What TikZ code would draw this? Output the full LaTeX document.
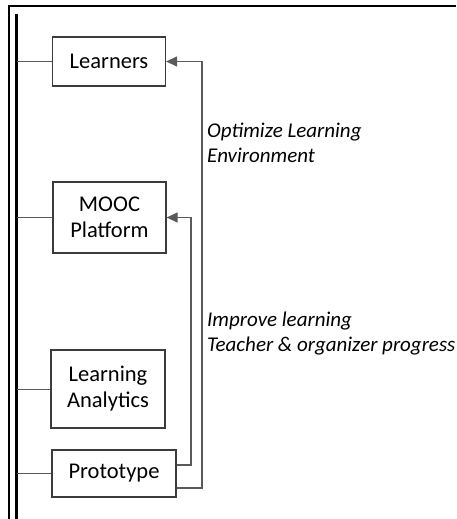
\documentclass[tikz,border=0pt]{standalone}
\usepackage{fontspec}
\setmainfont{Carlito}
\usetikzlibrary{arrows.meta}
\definecolor{boxline}{RGB}{60, 60, 60}
\definecolor{linkline}{RGB}{90, 90, 90}

\begin{document}
\begin{tikzpicture}[x=1pt, y=-1pt,
    part/.style={draw=boxline, line width=1.2pt, align=center, inner sep=0pt,
        font=\fontsize{22.5}{26}\selectfont},
    branch/.style={draw=linkline, line width=1pt},
    feedback/.style={draw=linkline, line width=1.2pt, -{Triangle[length=11pt, width=10pt]}},
    note/.style={anchor=north west, align=left, inner sep=0pt,
        font=\fontsize{21}{25}\selectfont\itshape}]
        \useasboundingbox (0,0) rectangle (456,519);

        % Frame and main bar
        \draw[line width=2pt] (9,519) -- (9,6) -- (456,6);
        \draw[line width=3pt] (16.5,14) -- (16.5,519);

        % Components
        \node[part, minimum width=113pt, minimum height=49pt] (learners) at (109,61.5) {Learners};
        \node[part, minimum width=113pt, minimum height=71pt] (mooc) at (109.5,217.5) {MOOC\\Platform};
        \node[part, minimum width=114pt, minimum height=78pt] (analytics) at (108,389) {Learning\\Analytics};
        \node[part, minimum width=124pt, minimum height=47pt] (prototype) at (114,473.5) {Prototype};

        % Branches from the bar
        \foreach \n in {learners, mooc, analytics, prototype}
            \draw[branch] (\n.west -| 16.5,0) -- (\n.west);

        % Feedback loops
        \coordinate (turnA) at (191,465);
        \coordinate (turnB) at (202,488);
        \draw[feedback] (prototype.east |- turnA) -- (turnA) -- (turnA |- mooc.east) -- (mooc.east);
        \draw[feedback] (prototype.east |- turnB) -- (turnB) -- (turnB |- learners.east) -- (learners.east);

        \node[note] (optimize) at (207,123) {Optimize Learning\\Environment};
        \node[note] (improve) at (207,312) {Improve learning\\Teacher \& organizer progress};
    \end{tikzpicture}
\end{document}
